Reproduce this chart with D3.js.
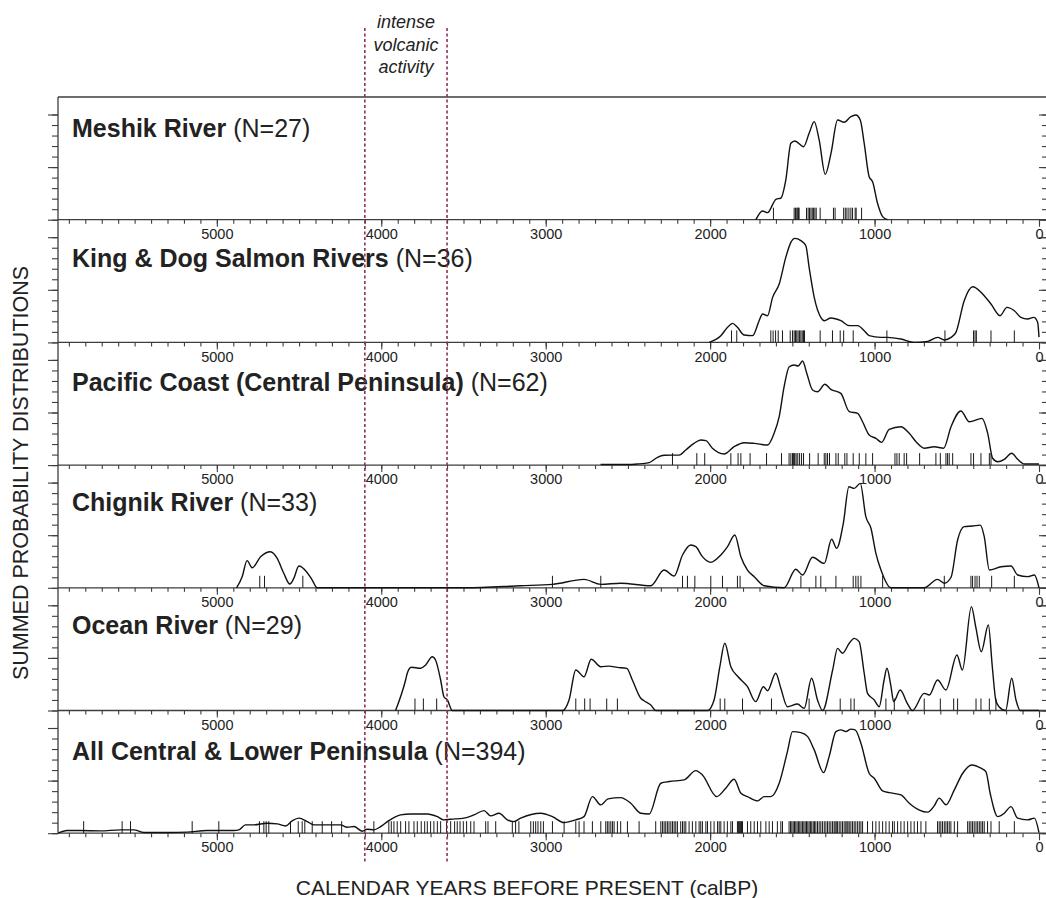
<!DOCTYPE html>
<html>
<head>
<meta charset="utf-8">
<script src="https://cdn.jsdelivr.net/npm/d3@7"></script>
<style>
  body { margin: 0; background: #fff; }
  svg { display: block; }
  text { font-family: "Liberation Sans", Arial, Helvetica, sans-serif; fill: #222; }
</style>
</head>
<body>
<svg id="viz" width="1046" height="898"></svg>
<script>
// ---- data (years calBP, relative summed probability) ----
const panelNames = ["Meshik River", "King & Dog Salmon Rivers", "Pacific Coast (Central Peninsula)",
    "Chignik River", "Ocean River", "All Central & Lower Peninsula"];
const panelCounts = [27, 36, 62, 33, 29, 394];

const meshikYears = [1722, 1681, 1651, 1600, 1570, 1540, 1509, 1485, 1432, 1398, 1367, 1337, 1300, 1265, 1225, 1185, 1144, 1114, 1087, 1063, 1033, 1012, 982, 951, 921];
const meshikValues = [0, 0.083, 0.067, 0.194, 0.206, 0.377, 0.726, 0.748, 0.694, 0.821, 0.932, 0.758, 0.431, 0.631, 0.948, 0.926, 0.979, 0.995, 0.948, 0.726, 0.409, 0.361, 0.156, 0.029, 0];
const meshikDates = [1615, 1489, 1481, 1473, 1467, 1463, 1459, 1414, 1404, 1396, 1387, 1379, 1371, 1363, 1355, 1331, 1250, 1240, 1188, 1178, 1168, 1156, 1144, 1134, 1118, 1112, 1079];

const kingYears = [2006, 1935, 1894, 1864, 1834, 1793, 1742, 1702, 1681, 1651, 1620, 1580, 1540, 1509, 1485, 1448, 1418, 1398, 1367, 1327, 1306, 1266, 1205, 1154, 1103, 1063, 1033, 962, 921, 840, 759, 677, 616, 576, 535, 505, 455, 403, 343, 292, 237, 195, 150, 110, 69, 32, 8, 0];
const kingValues = [0, 0.064, 0.143, 0.181, 0.143, 0.07, 0.064, 0.206, 0.27, 0.254, 0.428, 0.555, 0.808, 0.951, 0.989, 0.967, 0.919, 0.713, 0.428, 0.238, 0.206, 0.232, 0.206, 0.159, 0.159, 0.111, 0.064, 0.048, 0.048, 0.032, 0, 0.01, 0.048, 0.023, 0.048, 0.095, 0.396, 0.529, 0.46, 0.365, 0.254, 0.333, 0.301, 0.238, 0.222, 0.238, 0.19, 0.05];
const kingDates = [1870, 1838, 1631, 1617, 1602, 1586, 1560, 1513, 1499, 1489, 1481, 1473, 1465, 1456, 1448, 1440, 1432, 1426, 1331, 1256, 1209, 1188, 1130, 925, 572, 398, 389, 381, 292, 150];

const pacificYears = [2666, 2503, 2442, 2371, 2320, 2280, 2229, 2189, 2148, 2098, 2057, 2026, 1986, 1915, 1854, 1793, 1732, 1651, 1611, 1580, 1550, 1519, 1489, 1465, 1438, 1412, 1377, 1347, 1302, 1266, 1205, 1154, 1103, 1073, 1033, 992, 957, 911, 840, 789, 748, 698, 637, 580, 535, 475, 424, 347, 312, 282, 251, 211, 166, 130, 89, 0];
const pacificValues = [0.006, 0.005, 0.01, 0.023, 0.074, 0.093, 0.095, 0.095, 0.144, 0.207, 0.238, 0.232, 0.16, 0.105, 0.175, 0.213, 0.207, 0.191, 0.302, 0.46, 0.745, 0.935, 0.951, 0.942, 0.989, 0.871, 0.714, 0.697, 0.768, 0.72, 0.682, 0.508, 0.492, 0.412, 0.286, 0.254, 0.216, 0.339, 0.365, 0.302, 0.222, 0.16, 0.175, 0.16, 0.365, 0.514, 0.412, 0.444, 0.302, 0.065, 0.032, 0.055, 0.112, 0.055, 0.01, 0.01];
const pacificDates = [2229, 2081, 2033, 1874, 1830, 1813, 1757, 1657, 1566, 1520, 1509, 1499, 1494, 1489, 1485, 1477, 1467, 1456, 1444, 1432, 1395, 1343, 1306, 1296, 1286, 1274, 1235, 1221, 1181, 1168, 1130, 1093, 1053, 1012, 876, 864, 850, 820, 805, 726, 627, 600, 566, 556, 546, 525, 414, 398, 353, 302, 292];

const chignikYears = [4880, 4846, 4816, 4785, 4734, 4674, 4633, 4593, 4556, 4532, 4501, 4455, 4420, 4390, 3487, 3152, 2959, 2767, 2665, 2544, 2361, 2280, 2219, 2168, 2118, 2087, 2047, 1996, 1935, 1894, 1850, 1813, 1773, 1732, 1671, 1550, 1479, 1438, 1377, 1306, 1261, 1231, 1190, 1156, 1124, 1087, 1053, 1022, 992, 961, 900, 698, 617, 576, 535, 495, 455, 403, 357, 333, 302, 231, 170, 130, 69, 28, 0];
const chignikValues = [0, 0.106, 0.258, 0.191, 0.296, 0.343, 0.28, 0.138, 0.036, 0.09, 0.207, 0.153, 0.074, 0, 0, 0.02, 0.033, 0.08, 0.033, 0.043, 0.02, 0.169, 0.112, 0.312, 0.407, 0.391, 0.296, 0.242, 0.312, 0.391, 0.502, 0.296, 0.169, 0.106, 0.02, 0, 0.176, 0.122, 0.29, 0.232, 0.461, 0.375, 0.613, 0.961, 0.945, 0.993, 0.676, 0.566, 0.328, 0.169, 0, 0, 0.08, 0.043, 0.1, 0.454, 0.581, 0.587, 0.596, 0.486, 0.169, 0.2, 0.207, 0.122, 0.106, 0.122, 0];
const chignikDates = [4739, 4710, 4477, 2959, 2665, 2168, 2138, 2093, 1996, 1925, 1834, 1818, 1448, 1357, 1327, 1235, 1130, 1114, 1100, 1083, 951, 576, 414, 404, 389, 377, 363, 288, 150];

const oceanYears = [3913, 3852, 3842, 3817, 3761, 3730, 3690, 3670, 3639, 3619, 3598, 3568, 2898, 2858, 2817, 2767, 2723, 2665, 2615, 2564, 2507, 2473, 2422, 2402, 2361, 2331, 2016, 1976, 1941, 1911, 1874, 1830, 1773, 1723, 1676, 1651, 1601, 1570, 1530, 1469, 1428, 1383, 1347, 1316, 1255, 1225, 1195, 1154, 1124, 1094, 1063, 1043, 1002, 972, 942, 925, 900, 884, 844, 801, 770, 698, 667, 617, 566, 499, 466, 411, 385, 351, 308, 284, 263, 243, 203, 166, 140, 114, 0];
const oceanValues = [0, 0.29, 0.354, 0.411, 0.401, 0.433, 0.511, 0.48, 0.29, 0.131, 0.1, 0, 0, 0.1, 0.385, 0.321, 0.487, 0.416, 0.422, 0.41, 0.4, 0.29, 0.116, 0.093, 0.052, 0, 0, 0.1, 0.416, 0.639, 0.416, 0.321, 0.226, 0.084, 0.226, 0.188, 0.354, 0.211, 0.036, 0.062, 0.021, 0.306, 0.1, 0, 0.385, 0.591, 0.544, 0.639, 0.686, 0.654, 0.354, 0.163, 0.1, 0.036, 0.29, 0.401, 0.226, 0.084, 0.195, 0.068, 0, 0.163, 0.147, 0.29, 0.195, 0.528, 0.385, 0.987, 0.797, 0.559, 0.813, 0.416, 0.1, 0.036, 0, 0.306, 0.1, 0, 0];
const oceanDates = [3795, 3744, 3663, 2817, 2763, 2730, 2629, 2564, 1939, 1911, 1803, 1627, 1398, 1209, 1144, 1124, 931, 880, 698, 600, 519, 495, 383, 353, 302, 262];

const allYears = [5966, 5911, 5830, 5708, 5586, 5505, 5444, 5302, 5180, 5059, 4897, 4866, 4826, 4775, 4694, 4633, 4582, 4542, 4501, 4450, 4410, 4288, 4248, 4207, 4166, 4116, 4085, 4045, 4004, 3963, 3882, 3822, 3720, 3659, 3619, 3578, 3497, 3436, 3375, 3335, 3284, 3233, 3193, 3152, 3030, 2959, 2889, 2817, 2767, 2716, 2665, 2621, 2544, 2483, 2422, 2371, 2300, 2249, 2158, 2087, 2047, 1960, 1905, 1854, 1813, 1773, 1712, 1671, 1631, 1580, 1530, 1499, 1448, 1408, 1367, 1310, 1276, 1235, 1205, 1175, 1144, 1118, 1083, 1033, 1002, 951, 911, 840, 789, 728, 677, 637, 607, 566, 515, 464, 409, 353, 323, 297, 251, 211, 170, 130, 69, 28, 0];
const allValues = [0, 0.025, 0.025, 0.022, 0.032, 0.032, 0.006, 0.006, 0.01, 0.025, 0.025, 0.032, 0.079, 0.079, 0.095, 0.089, 0.069, 0.117, 0.143, 0.11, 0.079, 0.079, 0.079, 0.057, 0.063, 0.019, 0.038, 0.032, 0.063, 0.11, 0.174, 0.183, 0.183, 0.158, 0.127, 0.133, 0.143, 0.174, 0.215, 0.165, 0.19, 0.127, 0.11, 0.143, 0.19, 0.158, 0.101, 0.127, 0.158, 0.348, 0.269, 0.326, 0.338, 0.285, 0.19, 0.183, 0.475, 0.491, 0.507, 0.595, 0.554, 0.348, 0.428, 0.513, 0.38, 0.348, 0.307, 0.348, 0.348, 0.475, 0.776, 0.966, 0.956, 0.92, 0.792, 0.576, 0.73, 0.966, 0.982, 0.966, 0.989, 0.982, 0.856, 0.57, 0.523, 0.402, 0.386, 0.364, 0.285, 0.22, 0.2, 0.26, 0.333, 0.27, 0.412, 0.57, 0.649, 0.618, 0.586, 0.38, 0.158, 0.19, 0.253, 0.143, 0.127, 0.143, 0.006];
const allDates = [5810, 5576, 5525, 5150, 4988, 4741, 4714, 4700, 4684, 4552, 4505, 4481, 4465, 4420, 4359, 4302, 4241,
    4045, 3954, 3939, 3923, 3903, 3882, 3852, 3832, 3801, 3781, 3757, 3736, 3720, 3700, 3680, 3659, 3639, 3603, 3578,
    3554, 3538, 3521, 3501, 3481, 3456, 3436, 3365, 3351, 3304, 3203, 3183, 3163,
    3091, 3075, 3061, 3047, 3030, 3014, 2959, 2888, 2817, 2797, 2767, 2716, 2665, 2635, 2625, 2615, 2604, 2594, 2584,
    2564, 2544, 2503, 2432, 2331, 2300, 2290, 2280, 2270, 2260, 2250, 2239, 2229, 2219, 2209, 2199, 2179, 2168, 2158,
    2148, 2128, 2108, 2087, 2067, 2057, 2047, 2026, 2016, 1996, 1976, 1955, 1945, 1935, 1915, 1895, 1874, 1864, 1834,
    1828, 1822, 1816, 1809, 1803, 1773, 1753, 1732, 1712, 1692, 1661, 1641, 1621, 1591, 1570, 1560,
    1520, 1511, 1503, 1495, 1487, 1479, 1471, 1463, 1455, 1447, 1438, 1430, 1422, 1414, 1406, 1398, 1390, 1382, 1373,
    1365, 1357, 1347, 1337, 1327, 1317, 1306, 1296, 1286, 1276, 1266, 1256, 1246, 1240, 1233, 1225, 1215, 1205, 1195,
    1185, 1175, 1168, 1162, 1154, 1144, 1134, 1124, 1114, 1103, 1093, 1083, 1073,
    1043, 1012, 992, 972, 951, 931, 911, 891, 880, 860, 840, 820, 799, 779, 759, 739, 718, 688,
    617, 607, 597, 587, 576, 566, 556, 546, 536, 515, 495,
    434, 424, 414, 404, 394, 383, 373, 363, 353, 343, 333, 313, 292, 242, 150];

const volcanicStart = 4100, volcanicEnd = 3600;
const majorYears = [5000, 4000, 3000, 2000, 1000, 0];
const minorYears = d3.range(5900, -1, -100);
const yMinor = d3.range(0, 1.01, 0.1);
const yMajor = [0, 0.5, 1];

const seriesYears = [meshikYears, kingYears, pacificYears, chignikYears, oceanYears, allYears];
const seriesValues = [meshikValues, kingValues, pacificValues, chignikValues, oceanValues, allValues];
const seriesDates = [meshikDates, kingDates, pacificDates, chignikDates, oceanDates, allDates];

// ---- layout ----
let svg = d3.select("#viz");
let width = +svg.attr("width");
let height = +svg.attr("height");

const left = 58, right = 1048;
const plotTop = 97;
const panelH = 122.7;
const unitH = 105.2;        // pixel height of value 1.0
const labelDy = [40, 47, 49, 46, 46.5, 49.5];
const axisColor = "#3d3d3d";
const font = "'Liberation Sans', Arial, sans-serif";

let x = d3.scaleLinear().domain([5966, 0]).range([left, 1039]);

svg.append("defs").append("clipPath").attr("id", "plotClip")
    .append("rect").attr("x", left).attr("y", 0).attr("width", right - left).attr("height", height);

let line = d3.line().curve(d3.curveMonotoneX);

panelNames.forEach((name, i) => {
    let top = plotTop + i * panelH;
    let base = top + panelH;
    let y = d3.scaleLinear().domain([0, panelH / unitH]).range([base, top]);
    let g = svg.append("g").attr("class", "panel");

    // left ticks (outside)
    g.append("g").attr("transform", `translate(${left},0)`)
        .call(d3.axisLeft(y).tickValues(yMinor).tickSize(6).tickFormat(""));
    g.append("g").attr("transform", `translate(${left},0)`)
        .call(d3.axisLeft(y).tickValues(yMajor).tickSize(10).tickFormat(""));
    // right ticks (pointing inward)
    g.append("g").attr("transform", `translate(${right},0)`)
        .call(d3.axisLeft(y).tickValues(yMinor).tickSize(6).tickFormat(""));
    g.append("g").attr("transform", `translate(${right},0)`)
        .call(d3.axisLeft(y).tickValues(yMajor).tickSize(9).tickFormat(""));

    // bottom ticks + labels
    g.append("g").attr("transform", `translate(0,${base})`)
        .call(d3.axisBottom(x).tickValues(minorYears).tickSize(4).tickFormat(""));
    g.append("g").attr("class", "xlab").attr("transform", `translate(0,${base})`)
        .call(d3.axisBottom(x).tickValues(majorYears).tickSize(7).tickPadding(2).tickFormat(d3.format("d")));

    g.selectAll(".domain").remove();
    g.selectAll(".tick line").attr("stroke", axisColor).attr("stroke-width", 1.1);
    g.selectAll(".xlab text").attr("font-size", 14.5).attr("font-family", font).attr("fill", "#2a2a2a");

    // baseline
    g.append("line").attr("x1", left).attr("x2", right).attr("y1", base).attr("y2", base)
        .attr("stroke", axisColor).attr("stroke-width", 1.3);

    // rug of dates
    g.append("g").selectAll("line").data(seriesDates[i]).join("line")
        .attr("x1", d => x(d)).attr("x2", d => x(d))
        .attr("y1", base).attr("y2", base - 12)
        .attr("stroke", "#1a1a1a").attr("stroke-width", 1);

    // summed probability curve
    let pts = seriesYears[i].map((yr, k) => [x(yr), y(seriesValues[i][k])]);
    g.append("path").attr("d", line(pts))
        .attr("clip-path", "url(#plotClip)")
        .attr("fill", "none").attr("stroke", "#111").attr("stroke-width", 1.4);

    // panel title
    let t = g.append("text").attr("x", 72).attr("y", top + labelDy[i])
        .attr("font-size", 25).attr("font-family", font);
    t.append("tspan").attr("font-weight", "bold").text(name);
    t.append("tspan").text(` (N=${panelCounts[i]})`);
});

// frame: top border and left axis line
svg.append("line").attr("x1", left).attr("x2", right).attr("y1", plotTop).attr("y2", plotTop)
    .attr("stroke", axisColor).attr("stroke-width", 1.3);
svg.append("line").attr("x1", left).attr("x2", left)
    .attr("y1", plotTop).attr("y2", plotTop + 6 * panelH)
    .attr("stroke", axisColor).attr("stroke-width", 1.3);

// volcanic activity window
[volcanicStart, volcanicEnd].forEach(v => {
    svg.append("line").attr("x1", x(v)).attr("x2", x(v)).attr("y1", 28).attr("y2", 863)
        .attr("stroke", "#8e3355").attr("stroke-width", 1.6).attr("stroke-dasharray", "3,2.5");
});
let mid = (x(volcanicStart) + x(volcanicEnd)) / 2;
["intense", "volcanic", "activity"].forEach((s, k) => {
    svg.append("text").attr("x", mid).attr("y", 28 + k * 22.5)
        .attr("text-anchor", "middle").attr("font-size", 18).attr("font-style", "italic")
        .attr("font-family", font).text(s);
});

// axis titles
svg.append("text").attr("x", 527).attr("y", 895).attr("text-anchor", "middle")
    .attr("font-size", 21).attr("font-family", font).text("CALENDAR YEARS BEFORE PRESENT (calBP)");
svg.append("text").attr("transform", "translate(28,473) rotate(-90)").attr("text-anchor", "middle")
    .attr("font-size", 21.5).attr("font-family", font).text("SUMMED PROBABILITY DISTRIBUTIONS");
</script>
</body>
</html>
